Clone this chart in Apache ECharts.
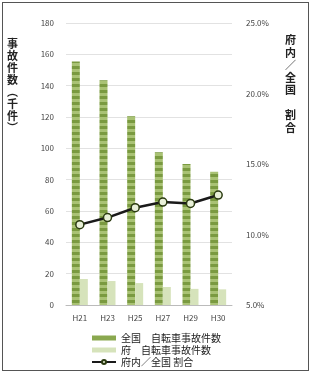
<!DOCTYPE html>
<html>
<head>
<meta charset="utf-8">
<script src="https://cdn.jsdelivr.net/npm/echarts@6/dist/echarts.min.js"></script>
<style>
    html, body { margin: 0; padding: 0; background: #fff; }
    #frame { position: absolute; left: 2px; top: 2px; width: 305px; height: 367px; border: 1px solid #555; }
    #chart { position: absolute; left: 0; top: 0; width: 313px; height: 373px; }
</style>
</head>
<body>
<div id="frame"></div>
<div id="chart"></div>
<script>
// 年度（平成）
var years = ['H21', 'H23', 'H25', 'H27', 'H29', 'H30'];
// 全国 自転車事故件数（千件）
var zenkoku = [155.5, 143.5, 120.5, 97.5, 90, 85];
// 府 自転車事故件数（千件）
var fu = [16.6, 15.3, 14.0, 11.5, 10.3, 10.0];
// 府内／全国 割合（%）
var ratio = [10.7, 11.2, 11.9, 12.3, 12.2, 12.8];

var leftTicks = { min: 0, max: 180, interval: 20 };
var rightTicks = { min: 5, max: 25, interval: 5 };

var FONT = '"Noto Sans CJK JP", "Noto Sans", sans-serif';

// 全国の棒は横縞のテクスチャ
function stripePattern() {
    var c = document.createElement('canvas');
    c.width = 4;
    c.height = 6;
    var ctx = c.getContext('2d');
    ctx.fillStyle = '#a9c274';
    ctx.fillRect(0, 0, 4, 6);
    ctx.fillStyle = '#7a9a40';
    ctx.fillRect(0, 0, 4, 3);
    return c;
}

var myChart = echarts.init(document.getElementById('chart'), null, { renderer: 'canvas' });

var option = {
    animation: false,
    textStyle: { fontFamily: FONT },
    grid: { left: 66, right: 81, top: 23, bottom: 68 },
    legend: {
        orient: 'vertical',
        left: 86,
        top: 328,
        itemGap: 2,
        itemWidth: 24,
        itemHeight: 5,
        textStyle: { fontSize: 10, color: '#222', fontFamily: FONT },
        data: [
            { name: '全国　自転車事故件数', icon: 'rect', itemStyle: { color: '#8aa84f' } },
            { name: '府　自転車事故件数', icon: 'rect', itemStyle: { color: '#d6e3bb' } },
            { name: '府内／全国 割合' }
        ]
    },
    xAxis: {
        type: 'category',
        data: years,
        axisLine: { lineStyle: { color: '#bbb' } },
        axisTick: { show: false },
        axisLabel: { color: '#444', fontSize: 8, margin: 9 }
    },
    yAxis: [
        {
            type: 'value',
            min: leftTicks.min,
            max: leftTicks.max,
            interval: leftTicks.interval,
            axisLine: { show: false },
            axisTick: { show: false },
            splitLine: { lineStyle: { color: '#e2e2e2' } },
            axisLabel: { color: '#444', fontSize: 8, margin: 12 }
        },
        {
            type: 'value',
            min: rightTicks.min,
            max: rightTicks.max,
            interval: rightTicks.interval,
            axisLine: { show: false },
            axisTick: { show: false },
            splitLine: { show: false },
            axisLabel: {
                color: '#444',
                fontSize: 8,
                margin: 14,
                formatter: function(v) { return v.toFixed(1) + '%'; }
            }
        }
    ],
    graphic: [
        {
            type: 'text',
            left: 7,
            top: 38,
            style: {
                text: '事\n故\n件\n数\n︵\n千\n件\n︶',
                fontSize: 11,
                lineHeight: 12,
                fontWeight: 'bold',
                fill: '#222',
                fontFamily: FONT
            }
        },
        {
            type: 'text',
            left: 285,
            top: 34,
            style: {
                text: '府\n内\n／\n全\n国\n \n割\n合',
                fontSize: 11,
                lineHeight: 12.5,
                fontWeight: 'bold',
                fill: '#222',
                fontFamily: FONT
            }
        }
    ],
    series: [
        {
            name: '全国　自転車事故件数',
            type: 'bar',
            data: zenkoku,
            barWidth: 8,
            barGap: '0%',
            itemStyle: { color: { image: stripePattern(), repeat: 'repeat' } }
        },
        {
            name: '府　自転車事故件数',
            type: 'bar',
            data: fu,
            barWidth: 8,
            itemStyle: { color: '#d6e3bb' }
        },
        {
            name: '府内／全国 割合',
            type: 'line',
            yAxisIndex: 1,
            data: ratio,
            symbol: 'circle',
            symbolSize: 8,
            lineStyle: { color: '#1a1a1a', width: 2.5 },
            itemStyle: { color: '#e8f0d8', borderColor: '#2a3a10', borderWidth: 1.5 }
        }
    ]
};

myChart.setOption(option);
</script>
</body>
</html>
